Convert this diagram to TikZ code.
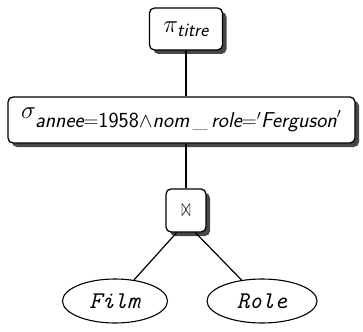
\documentclass[tikz,border=0pt]{standalone}
\usepackage{amsmath}
\usepackage{graphicx}
\usetikzlibrary{shadows,shapes.geometric}
\newcommand\vsf[1]{\textsf{\itshape #1}}
\newcommand\subsz[2][19]{\mbox{\fontsize{#1}{22}\selectfont $#2$}}
\begin{document}
\begin{tikzpicture}[x=1pt,y=-1pt,
  box/.style={draw, line width=1.3pt, rounded corners=5pt, fill=white,
    drop shadow={shadow xshift=4pt, shadow yshift=-4pt, fill=black!72, opacity=1},
    inner sep=0pt},
  rel/.style={draw, ellipse, line width=1.1pt, inner sep=0pt, minimum height=44pt},
  conn/.style={line width=1.2pt}]
\useasboundingbox (0,0) rectangle (363,331);
\node[box, minimum width=73pt, minimum height=42pt] (pi) at (186,29)
  {\fontsize{24}{28}\selectfont $\pi_{\subsz{\vsf{titre}}}$};
\node[box, minimum width=347pt, minimum height=46pt] (sigma) at (181.5,120)
  {\fontsize{24}{28}\selectfont $\sigma_{\subsz[21.5]{\vsf{annee}\mathord{=}\textsf{1958}\mathord{\wedge}\vsf{nom}\,\_\,\vsf{role}\mathord{=}{}'\vsf{Ferguson}'}}$};
\node[box, minimum width=40pt, minimum height=43pt] (join) at (186,210.5)
  {\resizebox{9pt}{12pt}{$\bowtie$}};
\node[rel, minimum width=105pt] (film) at (115,301)
  {\fontsize{24}{28}\selectfont\texttt{\itshape Film}};
\node[rel, minimum width=110pt] (role) at (262,301)
  {\fontsize{24}{28}\selectfont\texttt{\itshape Role}};
\draw[conn] (pi) -- (pi |- sigma.north);
\draw[conn] (sigma.south -| join) -- (join);
\draw[conn] (join.247) -- (film);
\draw[conn] (join.293) -- (role);
\end{tikzpicture}
\end{document}
